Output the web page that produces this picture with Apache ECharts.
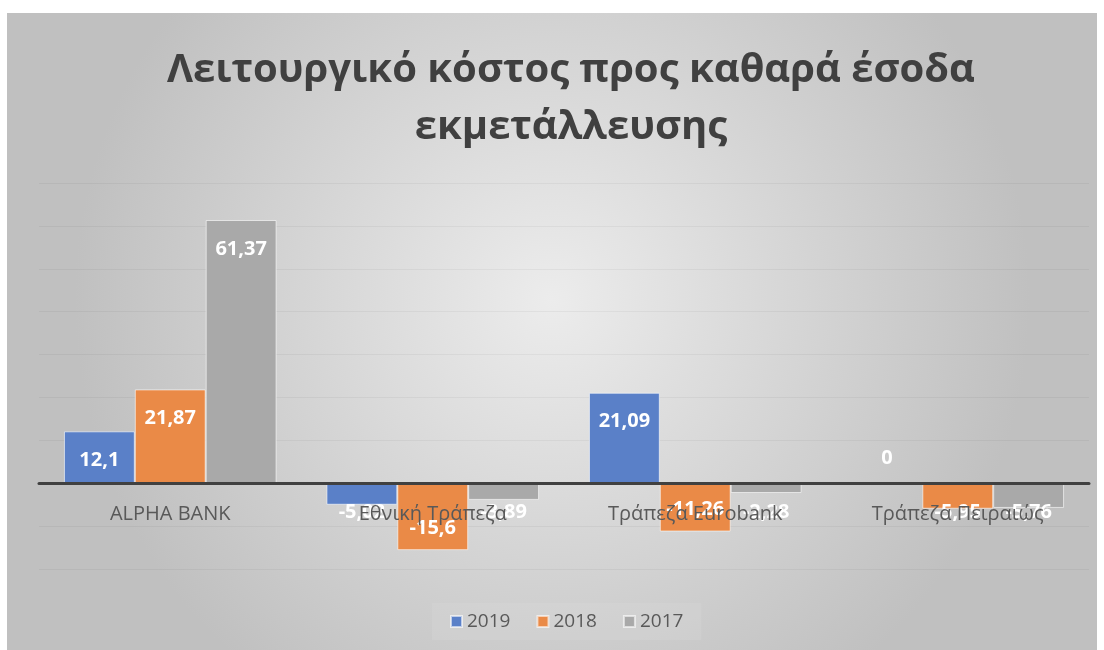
<!DOCTYPE html>
<html><head><meta charset="utf-8">
<script src="https://cdn.jsdelivr.net/npm/echarts@6/dist/echarts.min.js"></script>
<style>
html,body{margin:0;padding:0;background:#fff;}
#c{position:absolute;left:7px;top:13px;width:1090px;height:637px;}
</style></head>
<body><div id="c"></div>
<script>
const categories = ['ALPHA BANK', 'Εθνική Τράπεζα', 'Τράπεζα Eurobank', 'Τράπεζα Πειραιώς'];
const seriesNames = ['2019', '2018', '2017'];
const v2019 = [12.1, -5.02, 21.09, 0];
const v2018 = [21.87, -15.6, -11.26, -5.95];
const v2017 = [61.37, -3.89, -2.28, -5.76];
const colors = ['#5a80c8', '#ea8a47', '#a9a9a9'];
const titleText = 'Λειτουργικό κόστος προς καθαρά έσοδα\nεκμετάλλευσης';

const chart = echarts.init(document.getElementById('c'));
function labelFor(v){
  // Excel "inside end" placement, kept clear of the axis for short bars
  if (v > 0) return {position: 'insideTop', distance: 19};
  if (v === 0) return {position: 'top', distance: 14};
  if (v > -10.7) return {position: 'insideTop', distance: 19};
  return {position: 'insideBottom', distance: 12};
}
function mk(name, vals, color){
  return {
    name: name, type: 'bar', barGap: '0%', barCategoryGap: '19%',
    itemStyle: {color: color, borderColor: 'rgba(255,255,255,0.6)', borderWidth: 1},
    data: vals.map(v => ({
      value: v,
      label: Object.assign({
        show: true,
        color: '#fff', fontWeight: 'bold', fontSize: 20,
        fontFamily: 'Open Sans',
        formatter: p => String(p.value).replace('.', ',')
      }, labelFor(v))
    }))
  };
}
chart.setOption({
  backgroundColor: {
    type: 'radial', x: 0.5, y: 0.45, r: 0.75,
    colorStops: [{offset: 0, color: '#ececec'}, {offset: 1, color: '#c0c0c0'}]
  },
  color: colors,
  title: {
    text: titleText, left: 559, top: 24, textAlign: 'center',
    textStyle: {fontFamily: 'Open Sans', fontWeight: 'bold', fontSize: 40, color: '#404040', lineHeight: 57}
  },
  legend: {
    bottom: 10, left: 425, itemWidth: 11, itemHeight: 11, itemGap: 26,
    icon: 'rect', padding: [9, 18],
    backgroundColor: 'rgba(255,255,255,0.08)',
    textStyle: {fontFamily: 'Open Sans', fontSize: 19, color: '#595959'},
    data: seriesNames
  },
  grid: {left: 32, right: 8, top: 170, bottom: 81},
  xAxis: {
    type: 'category', data: categories, z: 10,
    axisLine: {onZero: true, lineStyle: {color: '#404040', width: 3}},
    axisTick: {show: false},
    axisLabel: {fontFamily: 'Open Sans', fontSize: 20, color: '#595959', margin: -65}
  },
  yAxis: {
    type: 'value', min: -20, max: 70, interval: 10,
    axisLabel: {show: false}, axisLine: {show: false}, axisTick: {show: false},
    splitLine: {lineStyle: {color: 'rgba(0,0,0,0.045)', width: 1}}
  },
  series: [mk(seriesNames[0], v2019, colors[0]), mk(seriesNames[1], v2018, colors[1]), mk(seriesNames[2], v2017, colors[2])]
});
</script></body></html>
